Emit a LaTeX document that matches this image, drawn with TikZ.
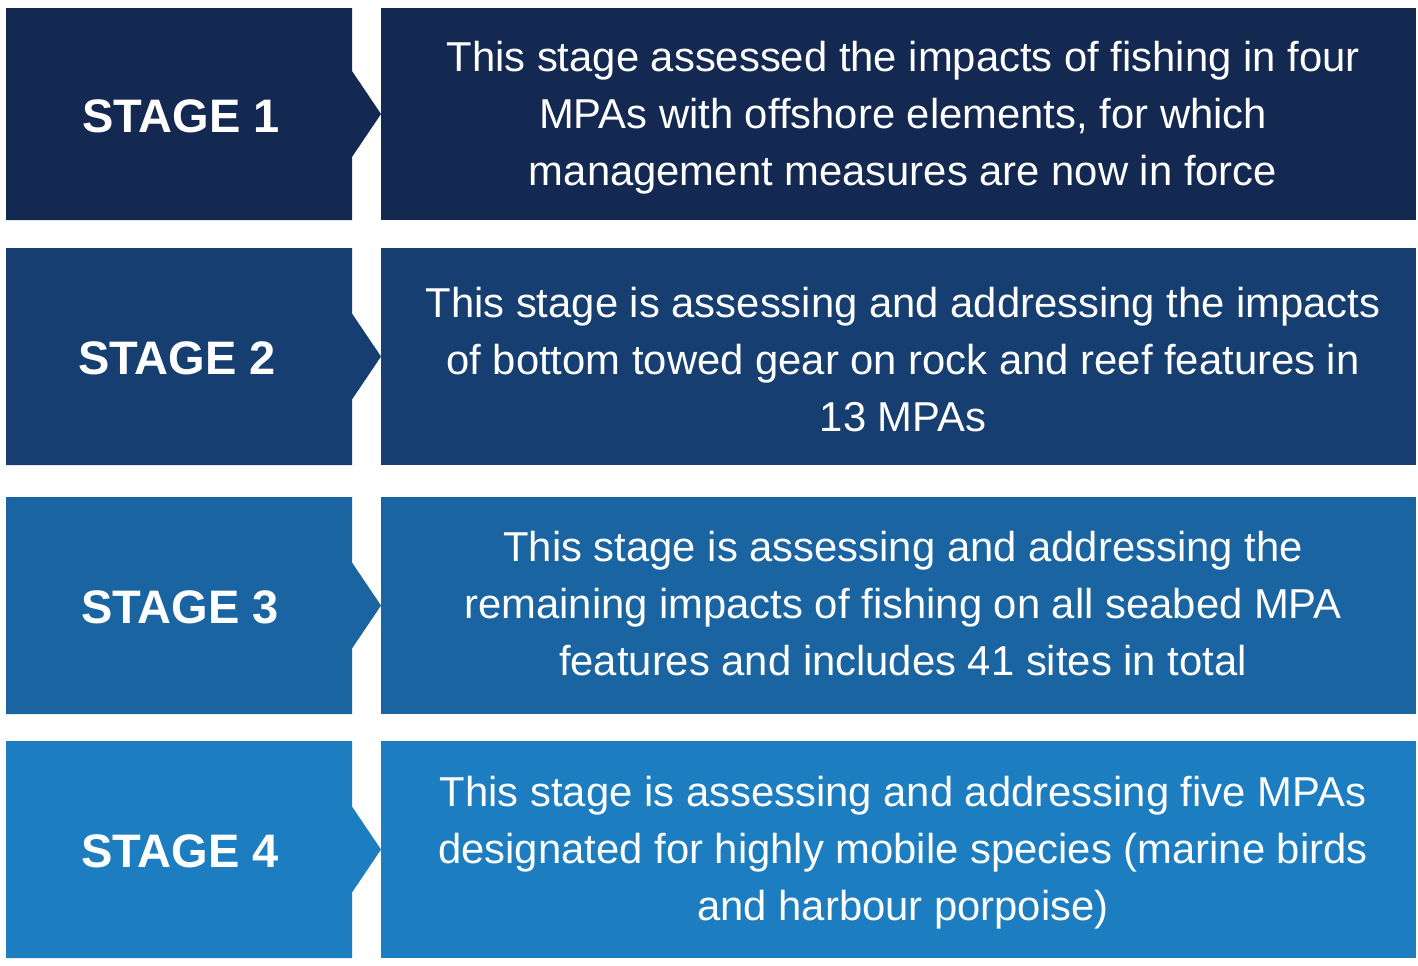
\documentclass[tikz,border=0pt]{standalone}
\usepackage{fontspec}
\setmainfont{Liberation Sans}
\definecolor{cone}{RGB}{20,41,82}
\definecolor{ctwo}{RGB}{22,62,112}
\definecolor{cthree}{RGB}{26,100,162}
\definecolor{cfour}{RGB}{28,126,192}
\tikzset{
  bodytext/.style={text=white, align=center, inner sep=0pt, font=\fontsize{20.9}{28.5}\selectfont},
  titletext/.style={text=white, inner sep=0pt, font=\bfseries\fontsize{23.5}{28}\selectfont}
}
\newcommand{\mystagerow}[7]{%
  \pgfmathsetmacro{\myc}{(#1+#2)/2}%
  \fill[#3] (6,#1) -- (352,#1) -- (352,\myc-43) -- (381,\myc) -- (352,\myc+43) -- (352,#2) -- (6,#2) -- cycle;
  \fill[#3] (381,#1) rectangle (1416,#2);
  \node[titletext] (s#4) at (#6,\myc+2) {STAGE #4};
  \node[bodytext] (t#4) at (903,\myc+#7) {#5};
}
\begin{document}
\begin{tikzpicture}[x=0.5pt,y=-0.5pt]
\useasboundingbox (0,0) rectangle (1418,965);
\fill[white] (0,0) rectangle (1418,965);
\mystagerow{8}{220}{cone}{1}{This stage assessed the impacts of fishing in four\\MPAs with offshore elements, for which\\management measures are now in force}{181}{4}
\mystagerow{248}{465}{ctwo}{2}{This stage is assessing and addressing the impacts\\of bottom towed gear on rock and reef features in\\13 MPAs}{177}{3}
\mystagerow{497}{714}{cthree}{3}{This stage is assessing and addressing the\\remaining impacts of fishing on all seabed MPA\\features and includes 41 sites in total}{180}{-2}
\mystagerow{741}{958}{cfour}{4}{This stage is assessing and addressing five MPAs\\designated for highly mobile species (marine birds\\and harbour porpoise)}{180}{3}
\end{tikzpicture}
\end{document}
